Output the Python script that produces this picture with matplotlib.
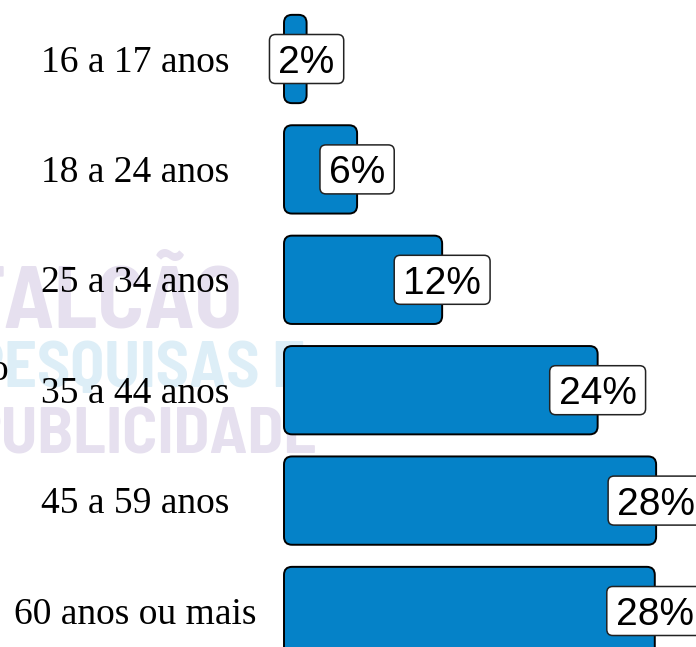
import matplotlib
matplotlib.use("Agg")
import matplotlib.pyplot as plt
from matplotlib.patches import FancyBboxPatch
from matplotlib.transforms import blended_transform_factory, offset_copy

# data
age_groups = ["16 a 17 anos", "18 a 24 anos", "25 a 34 anos",
              "35 a 44 anos", "45 a 59 anos", "60 anos ou mais"]
shares = [1.7, 5.5, 11.9, 23.6, 28.0, 27.9]
share_labels = ["2%", "6%", "12%", "24%", "28%", "28%"]

W, H = 696, 647
px_per_unit = 13.29       # horizontal pixels per percent
px_per_row = 110.4        # vertical pixels per category
bar_left_px = 284
first_center_px = 59

bar_color = "#0582c8"

fig = plt.figure(figsize=(W / 100, H / 100), dpi=100)
ax = fig.add_axes([0, 0, 1, 1])
ax.axis("off")
ax.set_xlim(-bar_left_px / px_per_unit, (W - bar_left_px) / px_per_unit)
ax.set_ylim((H - first_center_px) / px_per_row, -first_center_px / px_per_row)

aspect = px_per_unit / px_per_row

# watermark behind everything (right edge px, baseline px, cap height px)
wm_font = ["Barlow Semi Condensed", "DejaVu Sans"]
watermark = [("FALCÃO", 243, 328, 61, "#e6e0ef"),
             ("PESQUISAS E", 305, 387, 45, "#ddeef7"),
             ("PUBLICIDADE", 318, 453, 46, "#e6e0ef")]
for s, right, base, cap, col in watermark:
    ax.text(right / W, 1 - base / H, s, transform=ax.transAxes,
            ha="right", va="baseline", fontsize=cap / 0.7 * 0.72,
            fontweight="bold", family=wm_font, color=col, zorder=0)

# bars
bar_h = 0.80
for i, v in enumerate(shares):
    p = FancyBboxPatch((0, i - bar_h / 2), v, bar_h,
                       boxstyle="round,pad=0,rounding_size=%.3f" % (8 / px_per_unit),
                       mutation_aspect=aspect, fc=bar_color, ec="black",
                       lw=1.4, zorder=2)
    ax.add_patch(p)

# category labels
lab_tr = offset_copy(blended_transform_factory(ax.transAxes, ax.transData),
                     fig=fig, x=0, y=-12.7, units="dots")
for i, name in enumerate(age_groups):
    ax.text(135 / W, i, name, transform=lab_tr, ha="center", va="baseline",
            fontsize=27, family="Liberation Serif", color="black", zorder=5)

# stray fragment at the left edge
ax.text(8 / W, 1 - 380 / H, "o", transform=ax.transAxes, ha="right",
        va="baseline", fontsize=27, family="Liberation Serif", color="black")

# value labels
val_tr = offset_copy(ax.transData, fig=fig, x=0, y=-14, units="dots")
val_texts = []
for i, (v, s) in enumerate(zip(shares, share_labels)):
    t = ax.text(v, i, s, transform=val_tr, ha="center", va="baseline",
                fontsize=28, family="Liberation Sans", color="black", zorder=6)
    val_texts.append((t, v, i))

fig.canvas.draw()
renderer = fig.canvas.get_renderer()

# boxes around the value labels
inv = ax.transData.inverted()
for t, v, i in val_texts:
    bb = t.get_window_extent(renderer)
    cy = ax.transData.transform((v, i))[1]
    (x0, y0) = inv.transform((bb.x0 - 9, cy - 24.5))
    (x1, y1) = inv.transform((bb.x1 + 9, cy + 24.5))
    box = FancyBboxPatch((min(x0, x1), min(y0, y1)), abs(x1 - x0), abs(y1 - y0),
                         boxstyle="round,pad=0,rounding_size=%.3f" % (6 / px_per_unit),
                         mutation_aspect=aspect, fc="white", ec="#222222",
                         lw=1.1, zorder=4)
    ax.add_patch(box)

fig.savefig("out.png", dpi=100)
